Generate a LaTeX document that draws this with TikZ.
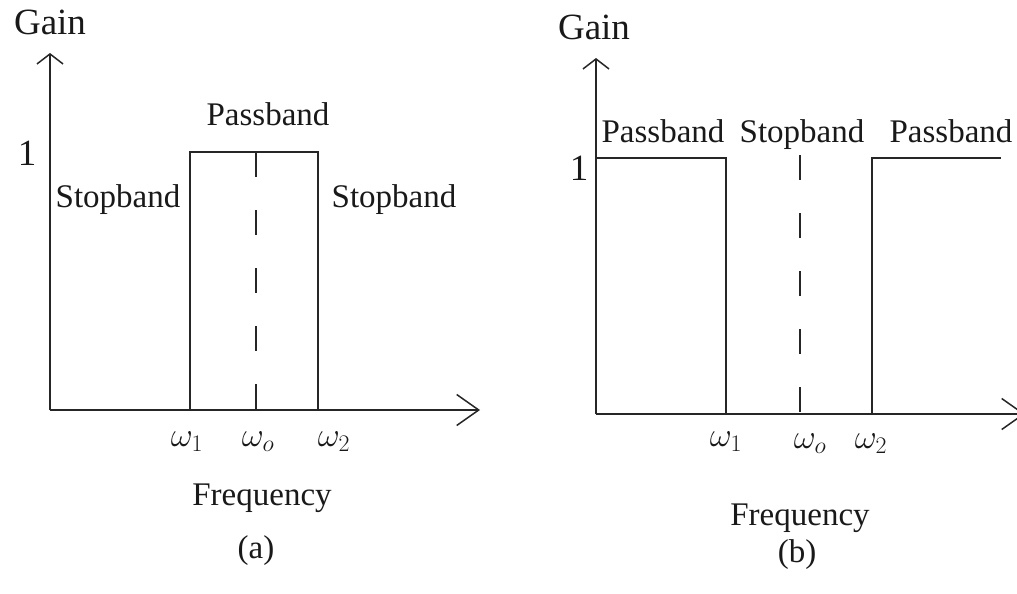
\RequirePackage{fix-cm}
\documentclass[tikz,border=0pt]{standalone}
\usepackage{fontspec}
\setmainfont{Liberation Serif}
\usetikzlibrary{arrows.meta}
\begin{document}
\begin{tikzpicture}[x=1pt,y=-1pt,
  ax/.style={line width=1.5pt, draw=black!85},
  yhead/.style={-{Straight Barb[length=10pt,width=26pt,line width=1.5pt]}},
  xhead/.style={-{Straight Barb[length=22pt,width=31pt,line width=1.5pt]}},
  midline/.style={line width=1.5pt, draw=black!85, dash pattern=on 25pt off 33pt},
  lbl/.style={font=\fontsize{33}{40}\selectfont, inner sep=0pt, anchor=base, text=black!90},
  big/.style={font=\fontsize{37}{44}\selectfont, inner sep=0pt, anchor=base, text=black!90},
  om/.style={font=\fontsize{34}{40}\selectfont, inner sep=0pt, anchor=base, text=black!90}]
\useasboundingbox (0,0) rectangle (1017,594);
\clip (0,0) rectangle (1017,594);
% ---------- panel (a)
\coordinate (O1) at (50,410);
\coordinate (Y1) at (50,53);
\coordinate (X1) at (480,410);
\draw[ax, yhead] (O1) -- (Y1);
\draw[ax, xhead] (O1) -- (X1);
\coordinate (a1) at (190,410);
\coordinate (a2) at (190,152);
\coordinate (a3) at (318,152);
\coordinate (a4) at (318,410);
\draw[ax] (a1) -- (a2) -- (a3) -- (a4);
\coordinate (m1t) at (256,152);
\coordinate (m1b) at (256,410);
\draw[midline] (m1t) -- (m1b);
\node[big] (gainA) at (50,35) {Gain};
\node[big] (oneA) at (27,165) {1};
\node[lbl] (stopA1) at (118,207) {Stopband};
\node[lbl] (passA) at (268,125) {Passband};
\node[lbl] (stopA2) at (394,207) {Stopband};
\node[om] (w1A) at (187,446) {$\omega_1$};
\node[om] (woA) at (258,446) {$\omega_o$};
\node[om] (w2A) at (334,446) {$\omega_2$};
\node[lbl] (freqA) at (262,505) {Frequency};
\node[lbl] (capA) at (256,558) {(a)};
% ---------- panel (b)
\coordinate (O2) at (596,414);
\coordinate (Y2) at (596,58);
\coordinate (X2) at (1025,414);
\draw[ax, yhead] (O2) -- (Y2);
\draw[ax, xhead] (O2) -- (X2);
\coordinate (b1) at (596,158);
\coordinate (b2) at (726,158);
\coordinate (b3) at (726,414);
\draw[ax] (b1) -- (b2) -- (b3);
\coordinate (c1) at (872,414);
\coordinate (c2) at (872,158);
\coordinate (c3) at (1001,158);
\draw[ax] (c1) -- (c2) -- (c3);
\coordinate (m2t) at (800,155);
\coordinate (m2b) at (800,414);
\draw[midline] (m2t) -- (m2b);
\node[big] (gainB) at (594,40) {Gain};
\node[big] (oneB) at (579,180) {1};
\node[lbl] (passB1) at (663,142) {Passband};
\node[lbl] (stopB) at (802,142) {Stopband};
\node[lbl] (passB2) at (951,142) {Passband};
\node[om] (w1B) at (726,446) {$\omega_1$};
\node[om] (woB) at (810,448) {$\omega_o$};
\node[om] (w2B) at (871,448) {$\omega_2$};
\node[lbl] (freqB) at (800,525) {Frequency};
\node[lbl] (capB) at (797,562) {(b)};
\end{tikzpicture}
\end{document}
